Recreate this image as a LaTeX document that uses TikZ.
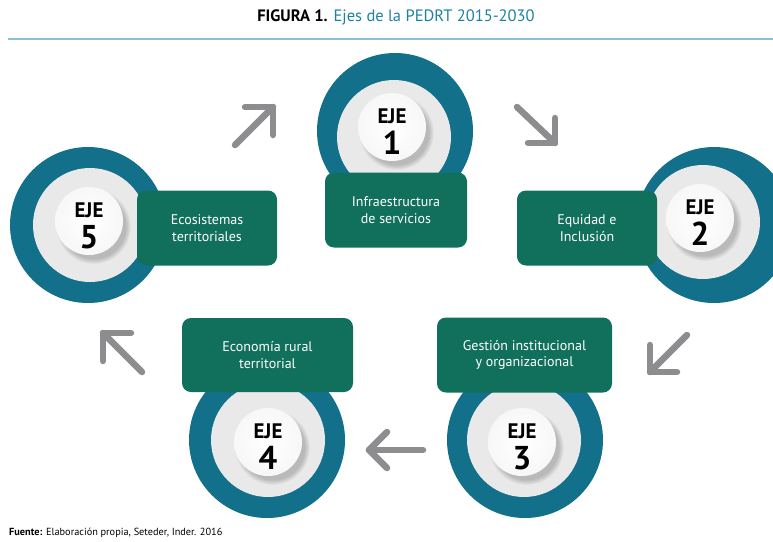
\documentclass[tikz,border=0pt]{standalone}
\usepackage{fontspec}
\setmainfont{PT Sans}
\usetikzlibrary{shadows,calc}
\definecolor{tealring}{HTML}{13708A}
\definecolor{greenbox}{HTML}{11705C}
\definecolor{ringgray}{HTML}{E9E9E9}
\definecolor{arrowgray}{HTML}{8D8D8F}
\definecolor{titleteal}{HTML}{1D82A0}
\definecolor{rulecol}{HTML}{8CC2D0}
\begin{document}
\begin{tikzpicture}[x=1pt,y=-1pt,
  outerring/.style={circle, fill=tealring, minimum size=156pt, inner sep=0pt},
  innerring/.style={circle, fill=ringgray, minimum size=114pt, inner sep=0pt},
  whitedisc/.style={circle, inner color=white, outer color=gray!6, minimum size=68pt, inner sep=0pt,
     circular drop shadow={shadow xshift=4pt, shadow yshift=-5pt, opacity=0.45}},
  labelbox/.style={rounded corners=9pt, fill=greenbox, text=white, inner sep=0pt, align=center,
     font=\fontsize{14}{16.5}\selectfont},
  ejetext/.style={font=\bfseries\fontsize{21}{21}\selectfont, inner sep=0pt},
  numtext/.style={font=\bfseries\fontsize{33}{33}\selectfont, inner sep=0pt},
  cyclearrow/.style={draw=arrowgray, line width=6.5pt, line cap=round, line join=round}
]
\useasboundingbox (0,0) rectangle (773,541);
\path[clip] (0,0) rectangle (773,541);

% title and rule
\node[font=\fontsize{16.5}{18}\selectfont, inner sep=0pt] (title) at (396,17)
  {\textbf{FIGURA 1.} \textcolor{titleteal}{Ejes de la PEDRT 2015-2030}};
\coordinate (ruleL) at (8,39);
\coordinate (ruleR) at (773,39);
\draw[rulecol, line width=1.3pt] (ruleL) -- (ruleR);

% outer teal rings
\node[outerring] (t1) at (395,131) {};
\node[outerring] (t2) at (714,225) {};
\node[outerring] (t3) at (525,440) {};
\node[outerring] (t4) at (267,440) {};
\node[outerring] (t5) at (88,225) {};

% inner gray rings
\node[innerring] (g1) at (394,137) {};
\node[innerring] (g2) at (703,222) {};
\node[innerring] (g3) at (524,440) {};
\node[innerring] (g4) at (268,440) {};
\node[innerring] (g5) at (90,225) {};

% label boxes
\node[labelbox, minimum width=142pt, minimum height=75pt] (b1) at (396,210) {Infraestructura\\de servicios};
\node[labelbox, minimum width=140pt, minimum height=75pt] (b2) at (587,228) {Equidad e\\Inclusión};
\node[labelbox, minimum width=175pt, minimum height=75pt] (b3) at (524.5,355) {Gestión institucional\\y organizacional};
\node[labelbox, minimum width=171pt, minimum height=74pt] (b4) at (267.5,355) {Economía rural\\territorial};
\node[labelbox, minimum width=140pt, minimum height=75pt] (b5) at (207,228) {Ecosistemas\\territoriales};

% white discs
\node[whitedisc] (w1) at (392,127) {};
\node[whitedisc] (w2) at (700,218) {};
\node[whitedisc] (w3) at (522,442) {};
\node[whitedisc] (w4) at (268,442) {};
\node[whitedisc] (w5) at (89,221) {};

% texts in discs
\foreach \i/\n in {1/1,2/2,3/3,4/4,5/5}{
  \node[ejetext] (eje\i) at ($(w\i)+(0,-11)$) {EJE};
  \node[numtext] (num\i) at ($(w\i)+(0,16)$) {\n};
}

% cycle arrows
\coordinate (a1t) at (235,145); \coordinate (a1h) at (273,107);
\coordinate (a1p) at (245,107); \coordinate (a1q) at (273,135);
\draw[cyclearrow] (a1t) -- (a1h);
\draw[cyclearrow] (a1p) -- (a1h) -- (a1q);

\coordinate (a2t) at (517,107); \coordinate (a2h) at (555,143);
\coordinate (a2p) at (555,118); \coordinate (a2q) at (528,143);
\draw[cyclearrow] (a2t) -- (a2h);
\draw[cyclearrow] (a2p) -- (a2h) -- (a2q);

\coordinate (a3t) at (687,335); \coordinate (a3h) at (650,372);
\coordinate (a3p) at (650,345); \coordinate (a3q) at (677,372);
\draw[cyclearrow] (a3t) -- (a3h);
\draw[cyclearrow] (a3p) -- (a3h) -- (a3q);

\coordinate (a4t) at (423,450); \coordinate (a4h) at (369,450);
\coordinate (a4p) at (387,432); \coordinate (a4q) at (387,468);
\draw[cyclearrow] (a4t) -- (a4h);
\draw[cyclearrow] (a4p) -- (a4h) -- (a4q);

\coordinate (a5t) at (142,372); \coordinate (a5h) at (103,333);
\coordinate (a5p) at (131,333); \coordinate (a5q) at (103,361);
\draw[cyclearrow] (a5t) -- (a5h);
\draw[cyclearrow] (a5p) -- (a5h) -- (a5q);

% source
\node[anchor=west, inner sep=0pt, font=\fontsize{10.3}{11}\selectfont] (src) at (9,533)
  {\textbf{Fuente:} Elaboración propia, Seteder, Inder. 2016};
\end{tikzpicture}
\end{document}
